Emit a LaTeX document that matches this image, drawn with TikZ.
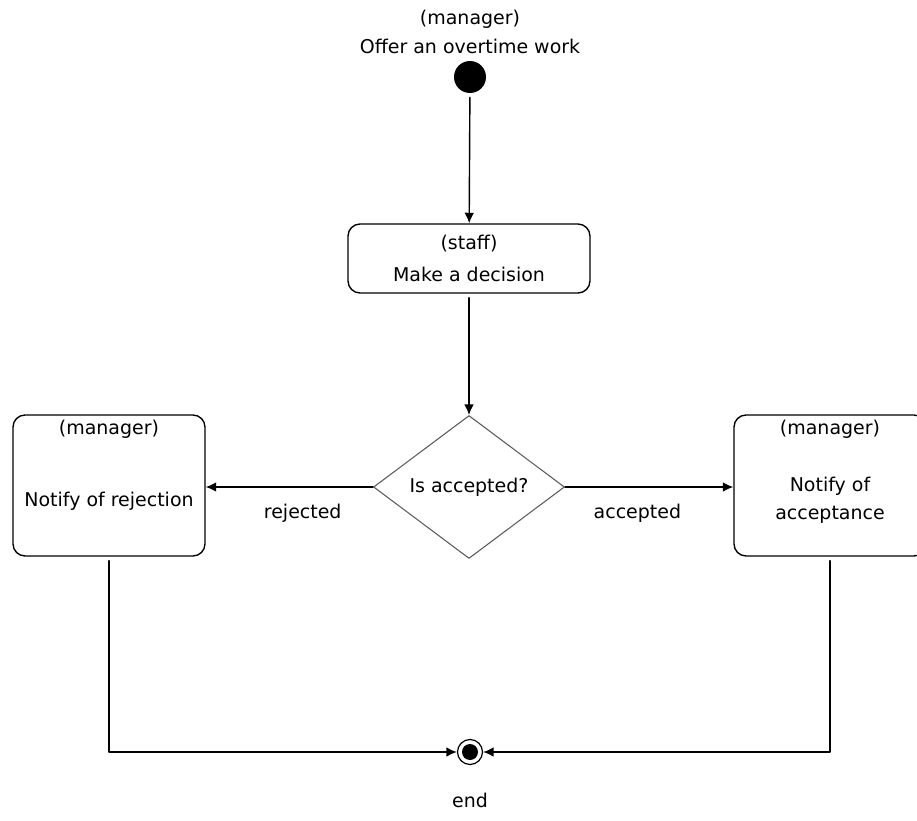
\documentclass[tikz,border=0pt]{standalone}
\usepackage{fontspec}
\setmainfont{DejaVu Sans}
\usetikzlibrary{shapes.geometric,arrows.meta}
\definecolor{diagray}{rgb}{0.35,0.35,0.35}

\begin{document}
\begin{tikzpicture}[line cap=round,line join=round,x=0.02cm,y=-0.02cm,
    every node/.style={font=\fontsize{10.8}{17}\selectfont},
    actbox/.style={draw,line width=0.8pt,rounded corners=0.24cm,inner sep=0pt},
    flow/.style={-{Latex[length=6pt,width=5.5pt]},line width=0.8pt},
    gap/.style={shorten <=0.08cm}]

    %\draw [step=50,gray!30] (0,0) grid (917,821);
    \clip (0,0) rectangle (917,821);

    \node (title) [align=center] at (470,32) {(manager)\\Offer an overtime work};
    \node (start) [circle,fill,inner sep=0pt,minimum size=0.64cm] at (470,77) {};

    \node (decide) [actbox,minimum width=4.84cm,minimum height=1.38cm,align=center,
        font=\fontsize{10.8}{18}\selectfont] at (469,258.5) {(staff)\\Make a decision};

    \node (check) [diamond,draw=diagray,line width=0.6pt,inner sep=0pt,
        minimum width=3.82cm,minimum height=2.86cm] at (469,487) {Is accepted?};

    \node (reject) [actbox,minimum width=3.84cm,minimum height=2.82cm] at (109,485.5) {};
    \node [below=0pt] at (reject.north) {(manager)};
    \node at (109,501) {Notify of rejection};

    \node (accept) [actbox,minimum width=3.84cm,minimum height=2.82cm] at (830,485.5) {};
    \node [below=0pt] at (accept.north) {(manager)};
    \node [align=center,font=\fontsize{10.8}{16}\selectfont] at (830,500) {Notify of\\acceptance};

    \node (end) [circle,draw,line width=0.7pt,inner sep=0pt,minimum size=0.5cm] at (470,752) {};
    \fill (end) circle (0.16cm);
    \node at (470,800) {end};

    \coordinate (rejcorner) at (reject.south |- end);
    \coordinate (acccorner) at (accept.south |- end);

    \draw [flow,gap] (start) -- (decide);
    \draw [flow,gap] (decide) -- (check);
    \draw [flow] (check.west) -- node[pos=0.42,below=6pt] {rejected} (check.west -| reject.east);
    \draw [flow] (check.east) -- node[pos=0.43,below=6pt] {accepted} (check.east -| accept.west);
    \draw [flow,gap] (reject.south) -- (rejcorner) -- (end);
    \draw [flow,gap] (accept.south) -- (acccorner) -- (end);
\end{tikzpicture}
\end{document}
